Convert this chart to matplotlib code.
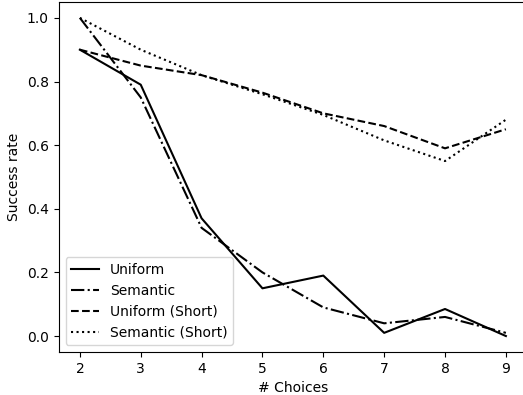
import numpy as np
import matplotlib
matplotlib.use("Agg")
import matplotlib.pyplot as plt

# number of choices
choices = [2, 3, 4, 5, 6, 7, 8, 9]

# success rates
uniform = [0.90, 0.79, 0.37, 0.15, 0.19, 0.01, 0.085, 0.0]
semantic = [1.00, 0.75, 0.34, 0.20, 0.09, 0.04, 0.06, 0.01]
uniform_short = [0.90, 0.85, 0.82, 0.765, 0.70, 0.66, 0.59, 0.65]
semantic_short = [1.00, 0.90, 0.82, 0.76, 0.695, 0.615, 0.55, 0.68]

fig, ax = plt.subplots(figsize=(5.23, 3.95), dpi=100)
# the original was cropped tightly, right spine falls just outside
fig.subplots_adjust(left=0.112, right=1.008, bottom=0.109, top=0.995)

ax.plot(choices, uniform, color="black", ls="-", label="Uniform")
ax.plot(choices, semantic, color="black", ls="-.", label="Semantic")
ax.plot(choices, uniform_short, color="black", ls="--", label="Uniform (Short)")
ax.plot(choices, semantic_short, color="black", ls=":", label="Semantic (Short)")

ax.set_xlabel("# Choices")
ax.set_ylabel("Success rate")
ax.legend(loc="lower left")

fig.savefig("out.png")
